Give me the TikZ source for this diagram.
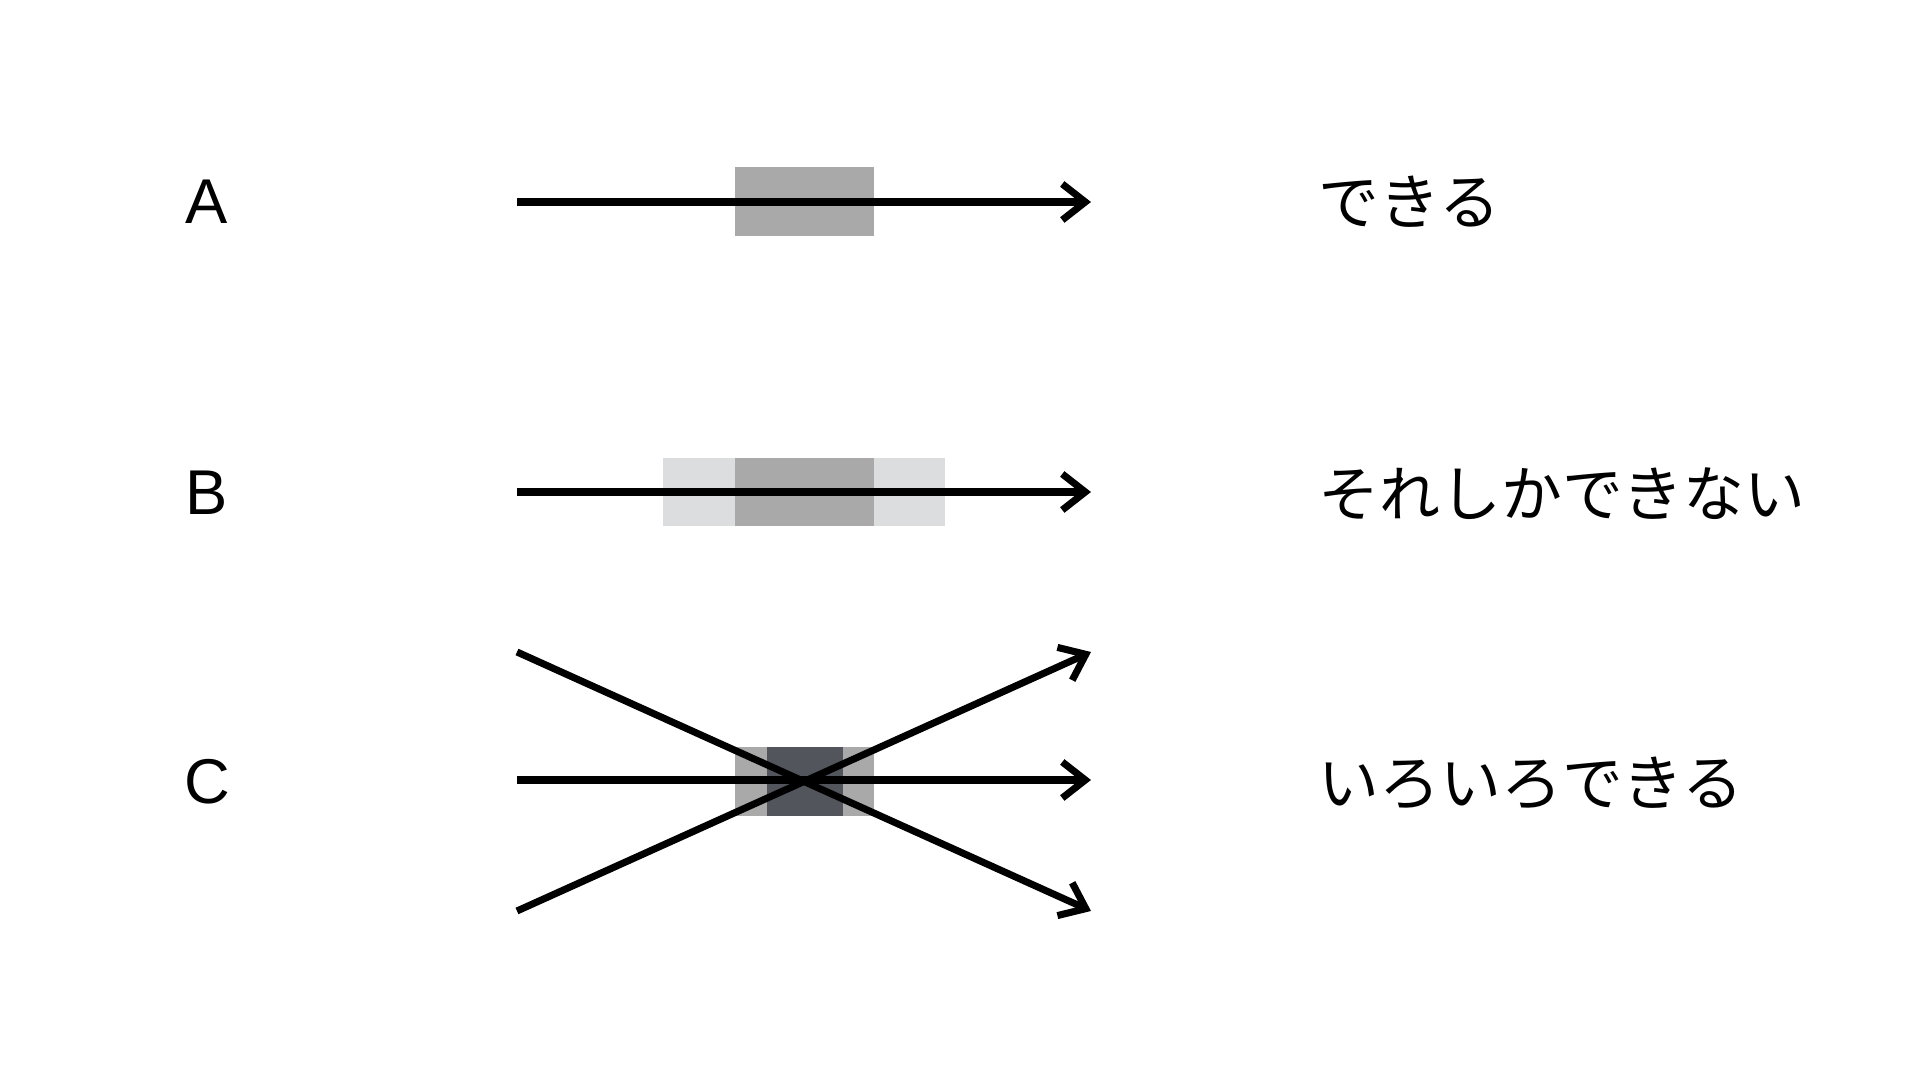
\documentclass[tikz,border=0pt]{standalone}
\usepackage{fontspec}
\setmainfont{Liberation Sans}
\newfontfamily\jpfont{Noto Sans CJK JP}
\usetikzlibrary{arrows.meta}

\definecolor{bandmid}{HTML}{A8A9A8}
\definecolor{bandpale}{HTML}{DCDDDF}
\definecolor{banddark}{HTML}{52555C}

\begin{document}
\begin{tikzpicture}[x=0.01cm,y=-0.01cm]

   \tikzstyle{every node}+=[inner sep=0pt]
   \tikzstyle{flow}=[black, line width=2pt, -{Straight Barb[length=2.3mm,width=3.6mm]}]
   \tikzstyle{rowlabel}=[font=\fontsize{18}{22}\selectfont]
   \tikzstyle{verdict}=[anchor=west, font=\jpfont\fontsize{17.3}{20}\selectfont]
   \useasboundingbox (0,0) rectangle (1920,1080);

   % bands
   \fill [bandmid] (735,167) rectangle (874,236);
   \fill [bandpale] (663,458) rectangle (945,526);
   \fill [bandmid] (735,458) rectangle (874,526);
   \fill [bandmid] (735,747) rectangle (874,816);
   \fill [banddark] (767,747) rectangle (843,816);

   % row A
   \coordinate (a0) at (517,202);
   \coordinate (a1) at (1091,202);
   \draw [flow] (a0) -- (a1);
   \node [rowlabel] (labA) at (207,202) {A};
   \node [verdict] (txtA) at (1318,202) {できる};

   % row B
   \coordinate (b0) at (517,492);
   \coordinate (b1) at (1091,492);
   \draw [flow] (b0) -- (b1);
   \node [rowlabel] (labB) at (207,493) {B};
   \node [verdict] (txtB) at (1318,494) {それしかできない};

   % row C
   \coordinate (c0) at (517,780);
   \coordinate (c1) at (1091,780);
   \coordinate (cu0) at (517,652);
   \coordinate (cu1) at (1091,911);
   \coordinate (cd0) at (517,911);
   \coordinate (cd1) at (1091,652);
   \draw [flow] (cu0) -- (cu1);
   \draw [flow] (cd0) -- (cd1);
   \draw [flow] (c0) -- (c1);
   \node [rowlabel] (labC) at (207,782) {C};
   \node [verdict] (txtC) at (1318,783) {いろいろできる};

\end{tikzpicture}
\end{document}
